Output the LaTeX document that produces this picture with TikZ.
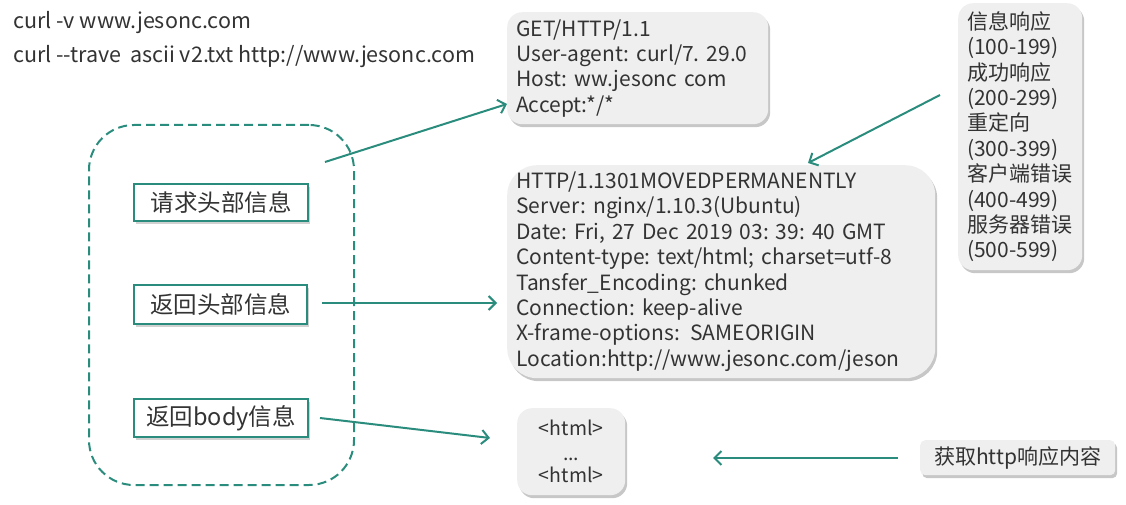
\documentclass[tikz,border=0pt]{standalone}
\usepackage{fontspec}
\setmainfont{Noto Sans CJK SC}
\usetikzlibrary{arrows.meta,shadows}
\definecolor{tealc}{HTML}{2A8C7C}
\definecolor{boxgray}{HTML}{EFEFEF}
\definecolor{txt}{HTML}{333333}
\frenchspacing
\begin{document}
\begin{tikzpicture}[x=1pt,y=-1pt,
  every node/.style={text=txt},
  shade1/.style={drop shadow={shadow xshift=2pt,shadow yshift=-3pt,fill=black,opacity=0.22}},
  graybox/.style={fill=boxgray, rounded corners=15pt, shade1, anchor=north west,
    inner xsep=9pt, inner ysep=0pt, align=left, font=\fontsize{21}{25.4}\selectfont},
  labelbox/.style={draw=tealc, line width=2.2pt, fill=white, anchor=north west,
    drop shadow={shadow xshift=2pt,shadow yshift=-3pt,fill=black,opacity=0.18},
    inner sep=0pt, font=\fontsize{23.5}{26}\selectfont},
  dashbox/.style={draw=tealc, line width=2pt, dash pattern=on 9pt off 5pt,
    rounded corners=45pt, anchor=north west, inner sep=0pt},
  arr/.style={draw=tealc, line width=2pt, -{Straight Barb[length=7pt,width=14pt]}},
  cmd/.style={anchor=base west, inner sep=0pt, font=\fontsize{21.5}{24}\selectfont}
]
\useasboundingbox (0,0) rectangle (1126,505);

% commands
\node[cmd] (c1) at (13,29) {curl -v www.jesonc.com};
\node[cmd] (c2) at (13,63) {curl -{}-trave\, ascii v2.txt http://www.jesonc.com};

% group box
\node[dashbox, minimum width=265pt, minimum height=360pt] (grp) at (88,124) {};

% label boxes
\node[labelbox, minimum width=174pt, minimum height=37pt] (req) at (133,183) {请求头部信息};
\node[labelbox, minimum width=173pt, minimum height=39pt] (rsh) at (133,284) {返回头部信息};
\node[labelbox, minimum width=174pt, minimum height=38pt] (rsb) at (133,398) {返回body信息};

% request header box
\node[graybox, text width=243pt, minimum height=112pt] (get) at (507,12)
  {GET/HTTP/1.1\\User-agent: curl/7. 29.0\\Host: ww.jesonc com\\Accept:*/*};

% response header box
\node[graybox, rounded corners=30pt, text width=410pt, minimum height=213pt] (resp) at (507,165)
  {HTTP/1.1301MOVEDPERMANENTLY\\
   Server: nginx/1.10.3(Ubuntu)\\
   Date: Fri, 27 Dec 2019 03: 39: 40 GMT\\
   Content-type: text/html; charset=utf-8\\
   Tansfer\_Encoding: chunked\\
   Connection: keep-alive\\
   X-frame-options:\, SAMEORIGIN\\
   Location:http://www.jesonc.com/jeson};

% status codes box
\node[graybox, text width=106pt, minimum height=267pt] (codes) at (958,3)
  {信息响应\\(100-199)\\成功响应\\(200-299)\\重定向\\(300-399)\\客户端错误\\(400-499)\\服务器错误\\(500-599)};

% body box
\node[graybox, align=center, inner xsep=0pt, text width=108pt, minimum height=87pt,
  font=\fontsize{19.5}{27}\selectfont] (body) at (517,408)
  {<html>\\[-2pt]...\\[-5pt]<html>};

% fetch box
\node[graybox, rounded corners=5pt, align=center, inner xsep=0pt, text width=195pt,
  minimum height=35pt] (fetch) at (920,440) {获取http响应内容};

% arrow end points
\coordinate (a1s) at (325,162);
\coordinate (a1e) at (507,104);
\coordinate (a2s) at (322,303);
\coordinate (a2e) at (497,303);
\coordinate (a3s) at (320,418);
\coordinate (a3e) at (490,438);
\coordinate (a4s) at (940,95);
\coordinate (a4e) at (808,163);
\coordinate (a5s) at (898,458);
\coordinate (a5e) at (713,458);

\draw[arr] (a1s) -- (a1e);
\draw[arr] (a2s) -- (a2e);
\draw[arr] (a3s) -- (a3e);
\draw[arr] (a4s) -- (a4e);
\draw[arr] (a5s) -- (a5e);
\end{tikzpicture}
\end{document}
